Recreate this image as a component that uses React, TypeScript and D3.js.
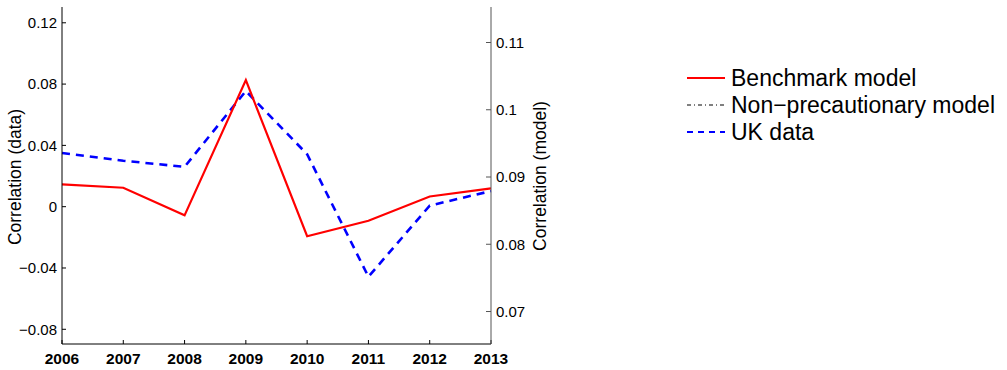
import React from "react";
import * as d3 from "d3";

const years = [2006, 2007, 2008, 2009, 2010, 2011, 2012, 2013];
const benchmarkModel = [0.0889, 0.0884, 0.0843, 0.1044, 0.0812, 0.0835, 0.0871, 0.0883];
const ukData = [0.035, 0.030, 0.026, 0.0755, 0.0342, -0.0457, 0.0007, 0.0102];
const dataTicks = [-0.08, -0.04, 0, 0.04, 0.08, 0.12];
const modelTicks = [0.07, 0.08, 0.09, 0.1, 0.11];
const legendItems = [
  { label: "Benchmark model", color: "#ff0000", dash: "none", width: 2 },
  { label: "Non\u2212precautionary model", color: "#000000", dash: "4,3,1,3", width: 1 },
  { label: "UK data", color: "#0000ff", dash: "6,5", width: 2 },
];

const W = 1007;
const H = 370;
const left = 62;
const right = 491;
const top = 7;
const bottom = 344;
const font = "'Liberation Sans', Arial, Helvetica, sans-serif";

export default function App() {
  const x = d3.scaleLinear().domain([2006, 2013]).range([left, right]);
  const yData = d3.scaleLinear().domain([-0.0896, 0.1303]).range([bottom, top]);
  const yModel = d3.scaleLinear().domain([0.06517, 0.11528]).range([bottom, top]);

  const modelLine = d3
    .line<number>()
    .x((_, i) => x(years[i]))
    .y((d) => yModel(d));
  const dataLine = d3
    .line<number>()
    .x((_, i) => x(years[i]))
    .y((d) => yData(d));

  const fmt = (v: number) => (v < 0 ? "\u2212" + String(Math.abs(v)) : String(v));

  return (
    <svg
      width={W}
      height={H}
      style={{ position: "absolute", left: 0, top: 0, background: "#fff" }}
      fontFamily={font}
    >
      {/* series */}
      <path d={dataLine(ukData) || ""} fill="none" stroke="#0000ff" strokeWidth={2.6} strokeDasharray="8,6" />
      <path d={modelLine(benchmarkModel) || ""} fill="none" stroke="#ff0000" strokeWidth={2.2} strokeLinejoin="miter" />

      {/* x axis */}
      <line x1={left} x2={right} y1={bottom} y2={bottom} stroke="#000" strokeWidth={1} />
      {years.map((yr) => (
        <g key={yr}>
          <line x1={x(yr)} x2={x(yr)} y1={bottom} y2={bottom - 4} stroke="#000" />
          <text x={x(yr)} y={bottom + 20} textAnchor="middle" fontSize={15.5} fontWeight="bold" fill="#000">
            {yr}
          </text>
        </g>
      ))}

      {/* left axis (data) */}
      <line x1={left} x2={left} y1={top} y2={bottom} stroke="#000" strokeWidth={1} />
      {dataTicks.map((t) => (
        <g key={t}>
          <line x1={left} x2={left + 4} y1={yData(t)} y2={yData(t)} stroke="#000" />
          <text x={left - 5} y={yData(t)} dy="0.35em" textAnchor="end" fontSize={15} fill="#000">
            {fmt(t)}
          </text>
        </g>
      ))}
      <text
        transform={`translate(${21},${177}) rotate(-90)`}
        textAnchor="middle"
        fontSize={17.5}
        fill="#000"
      >
        Correlation (data)
      </text>

      {/* right axis (model) */}
      <line x1={right} x2={right} y1={top} y2={bottom} stroke="#555" strokeWidth={1} />
      {modelTicks.map((t) => (
        <g key={t}>
          <line x1={right} x2={right - 5} y1={yModel(t)} y2={yModel(t)} stroke="#555" />
          <text x={right + 5} y={yModel(t)} dy="0.35em" textAnchor="start" fontSize={15} fill="#000">
            {fmt(t)}
          </text>
        </g>
      ))}
      <text
        transform={`translate(${546},${176}) rotate(-90)`}
        textAnchor="middle"
        fontSize={17.5}
        fill="#000"
      >
        Correlation (model)
      </text>

      {/* legend */}
      {legendItems.map((item, i) => {
        const cy = 78 + i * 27;
        return (
          <g key={item.label}>
            <line
              x1={687}
              x2={725}
              y1={cy}
              y2={cy}
              stroke={item.color}
              strokeWidth={item.width}
              strokeDasharray={item.dash}
            />
            <text x={731} y={cy} dy="0.35em" fontSize={23} fill="#000">
              {item.label}
            </text>
          </g>
        );
      })}
    </svg>
  );
}
